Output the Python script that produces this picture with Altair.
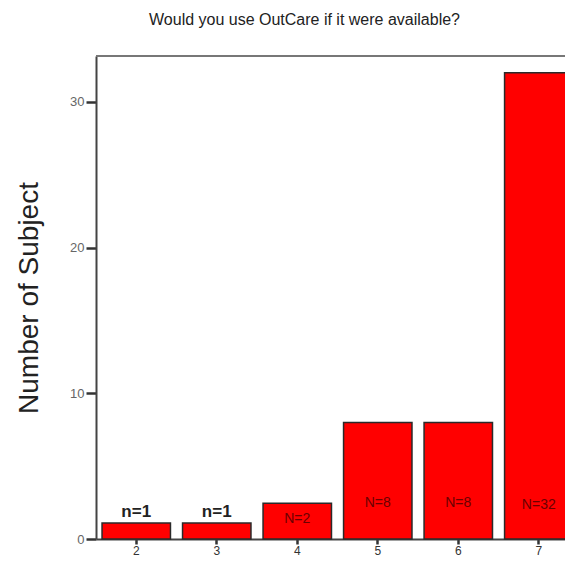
import altair as alt
import pandas as pd

# ---- data ----
categories = ["2", "3", "4", "5", "6", "7"]
counts = [1.1, 1.1, 2.45, 8, 8, 32]
labels = ["n=1", "n=1", "N=2", "N=8", "N=8", "N=32"]
label_pos = [1.85, 1.85, 1.4, 2.5, 2.5, 2.3]
label_kind = ["above", "above", "inside", "inside", "inside", "inside"]
y_ticks = [0, 10, 20, 30]
y_max = 33.15

df = pd.DataFrame({
    "cat": categories,
    "count": counts,
    "label": labels,
    "pos": label_pos,
    "kind": label_kind,
})

FONT = "Liberation Sans"

x_enc = alt.X(
    "cat:N",
    sort=categories,
    scale=alt.Scale(paddingInner=0.15, paddingOuter=0.0375, align=1),
    axis=alt.Axis(
        title=None, labelAngle=0, labelFontSize=12, labelColor="#333",
        labelPadding=1, tickSize=5, tickWidth=2.5, tickColor="#333",
        domainColor="#444", domainWidth=2, labelFont=FONT,
    ),
)
y_scale = alt.Scale(domain=[0, y_max], nice=False)

bars = alt.Chart(df).mark_bar(
    color="#ff0000", stroke="#2a2a2a", strokeWidth=1.5
).encode(
    x=x_enc,
    y=alt.Y(
        "count:Q",
        scale=y_scale,
        axis=alt.Axis(
            title="Number of Subject", values=y_ticks, grid=False,
            labelFontSize=13, labelColor="#666", labelPadding=2,
            tickSize=10, tickWidth=2.5, tickColor="#333",
            domainColor="#444", domainWidth=2,
            titleFontSize=28, titleFontWeight="normal", titleColor="#222",
            titleFont=FONT, titlePadding=26, labelFont=FONT,
        ),
    ),
)

above = alt.Chart(df).transform_filter(alt.datum.kind == "above").mark_text(
    fontSize=17, fontWeight="bold", color="#222", font=FONT, baseline="middle"
).encode(x=alt.X("cat:N", sort=categories), y=alt.Y("pos:Q", scale=y_scale), text="label:N")

inside = alt.Chart(df).transform_filter(alt.datum.kind == "inside").mark_text(
    fontSize=14, color="#6b0000", font=FONT, baseline="middle"
).encode(x=alt.X("cat:N", sort=categories), y=alt.Y("pos:Q", scale=y_scale), text="label:N")

top_line = alt.Chart(df).mark_rule(color="#777", strokeWidth=2).encode(
    y=alt.datum(y_max)
)

chart = alt.layer(bars, above, inside, top_line).properties(
    width=477,
    height=483,
    padding={"left": 88, "top": 48, "right": -8, "bottom": 22},
    autosize=alt.AutoSizeParams(type="none"),
    title=alt.Title(
        "Would you use OutCare if it were available?",
        fontSize=16, fontWeight="normal", color="#222", font=FONT,
        dx=-30, offset=27,
    ),
).configure_view(stroke=None).configure(font=FONT)

chart.save("out.html", embed_options={"renderer": "svg", "actions": False})
